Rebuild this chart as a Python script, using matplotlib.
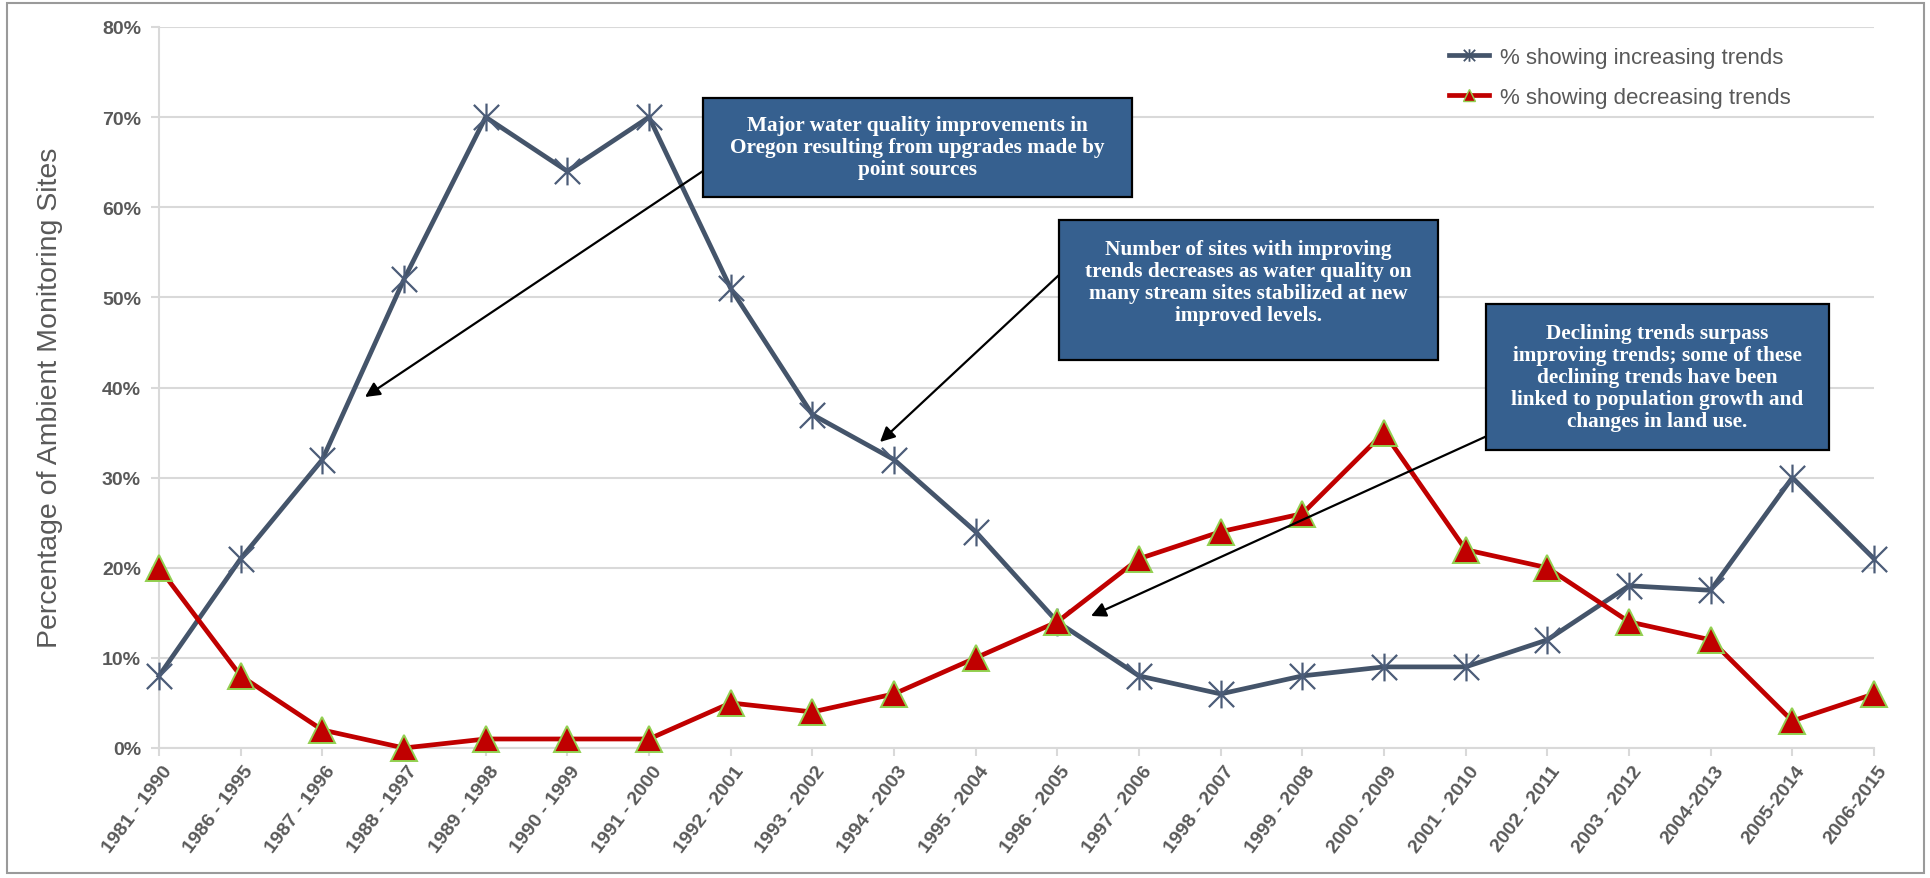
import matplotlib.pyplot as plt
from matplotlib.lines import Line2D
from matplotlib.patches import Rectangle
from matplotlib.path import Path
from matplotlib.ticker import PercentFormatter
from matplotlib.transforms import ScaledTranslation

periods = [
    "1981 - 1990", "1986 - 1995", "1987 - 1996", "1988 - 1997", "1989 - 1998",
    "1990 - 1999", "1991 - 2000", "1992 - 2001", "1993 - 2002", "1994 - 2003",
    "1995 - 2004", "1996 - 2005", "1997 - 2006", "1998 - 2007", "1999 - 2008",
    "2000 - 2009", "2001 - 2010", "2002 - 2011", "2003 - 2012", "2004-2013",
    "2005-2014", "2006-2015",
]
increasing = [8, 21, 32, 52, 70, 64, 70, 51, 37, 32, 24, 14, 8, 6, 8, 9, 9, 12, 18, 17.5, 30, 21]
decreasing = [20, 8, 2, 0, 1, 1, 1, 5, 4, 6, 10, 14, 21, 24, 26, 35, 22, 20, 14, 12, 3, 6]
series_labels = ["% showing increasing trends", "% showing decreasing trends"]

BLUE = "#44546A"
RED = "#C00000"
GREEN = "#92D050"
GRID = "#D9D9D9"
TEXT = "#595959"
BOX = "#36608F"

plt.rcParams["font.family"] = ["Liberation Sans", "DejaVu Sans"]

W, H = 1931, 879
fig = plt.figure(figsize=(W / 100, H / 100), dpi=100)
fig.patch.set_facecolor("white")


def fx(px):
    return px / W


def fy(py):
    return 1 - py / H


# Excel-style star marker: an X crossed by a vertical stroke
star = Path(
    [(-1, -1), (1, 1), (-1, 1), (1, -1), (0, -1.1), (0, 1.1)],
    [Path.MOVETO, Path.LINETO, Path.MOVETO, Path.LINETO, Path.MOVETO, Path.LINETO],
)

ax = fig.add_axes([fx(159), fy(749), (1874 - 159) / W, (749 - 28) / H])
xs = range(len(periods))

ax.plot(xs, increasing, color=BLUE, lw=3.4, marker=star, ms=20, mec="#4B5C78",
        mew=1.6, mfc="none", zorder=3, clip_on=False)
ax.plot(xs, decreasing, color=RED, lw=3.4, marker="^", ms=19, mfc=RED, mec=GREEN,
        mew=1.4, zorder=4, clip_on=False)

ax.set_xlim(0, len(periods) - 1)
ax.set_ylim(0, 80)
ax.set_yticks(range(0, 81, 10))
ax.yaxis.set_major_formatter(PercentFormatter(decimals=0))
ax.yaxis.grid(True, color=GRID, lw=1.5)
ax.set_axisbelow(True)

for side in ("top", "right"):
    ax.spines[side].set_visible(False)
for side in ("left", "bottom"):
    ax.spines[side].set_color(GRID)
    ax.spines[side].set_linewidth(1.5)

ax.tick_params(axis="both", color=GRID, length=6, width=1.5, labelcolor=TEXT,
               labelsize=14)
ax.tick_params(axis="y", pad=7)
ax.tick_params(axis="x", pad=4)

ax.set_xticks(list(xs))
ax.set_xticklabels(periods, rotation=53, ha="right", va="center",
                   rotation_mode="anchor")
shift = ScaledTranslation(7 / 72, -4 / 72, fig.dpi_scale_trans)
for lbl in ax.get_xticklabels():
    lbl.set_fontweight("bold")
    lbl.set_transform(lbl.get_transform() + shift)
for lbl in ax.get_yticklabels():
    lbl.set_fontweight("bold")

fig.text(fx(50), fy(398), "Percentage of Ambient Monitoring Sites", rotation=90,
         ha="center", va="center", fontsize=20.5, color=TEXT)

handles = [
    Line2D([], [], color=BLUE, lw=3.4, marker=star, ms=9, mec=BLUE, mew=1.3),
    Line2D([], [], color=RED, lw=3.4, marker="^", ms=9, mfc=RED, mec=GREEN, mew=1.0),
]
fig.legend(handles, series_labels, loc="upper left",
           bbox_to_anchor=(fx(1429), fy(28)), frameon=False, fontsize=16,
           handlelength=1.8, handletextpad=0.5, labelspacing=0.85,
           labelcolor=TEXT)


def callout(text, left, top, right, bottom, text_y):
    fig.add_artist(Rectangle((fx(left), fy(bottom)), (right - left) / W,
                             (bottom - top) / H, transform=fig.transFigure,
                             facecolor=BOX, edgecolor="black", lw=1.6, zorder=5))
    fig.text(fx((left + right) / 2), fy(text_y), text, ha="center", va="center",
             color="white", fontsize=15.3, fontweight="bold",
             family="Liberation Serif", linespacing=1.12, zorder=6)


def arrow(tail, head):
    ax.annotate("", xy=(fx(head[0]), fy(head[1])),
                xytext=(fx(tail[0]), fy(tail[1])),
                xycoords="figure fraction", textcoords="figure fraction",
                arrowprops=dict(arrowstyle="-|>", color="black", lw=1.6,
                                mutation_scale=22, shrinkA=0, shrinkB=0),
                zorder=6)


arrow((703, 172), (365, 398))
arrow((1059, 276), (880, 443))
arrow((1487, 437), (1091, 617))

callout("Major water quality improvements in\nOregon resulting from upgrades made by\npoint sources",
        703, 99, 1132, 198, 148)
callout("Number of sites with improving\ntrends decreases as water quality on\nmany stream sites stabilized at new\nimproved levels.",
        1059, 221, 1438, 361, 283)
callout("Declining trends surpass\nimproving trends; some of these\ndeclining trends have been\nlinked to population growth and\nchanges in land use.",
        1486, 305, 1829, 451, 378)

fig.add_artist(Rectangle((fx(7), fy(874)), (1924 - 7) / W, (874 - 4) / H,
                         transform=fig.transFigure, fill=False,
                         edgecolor="#9A9A9A", lw=1.5))

fig.savefig("out.png", dpi=100)
